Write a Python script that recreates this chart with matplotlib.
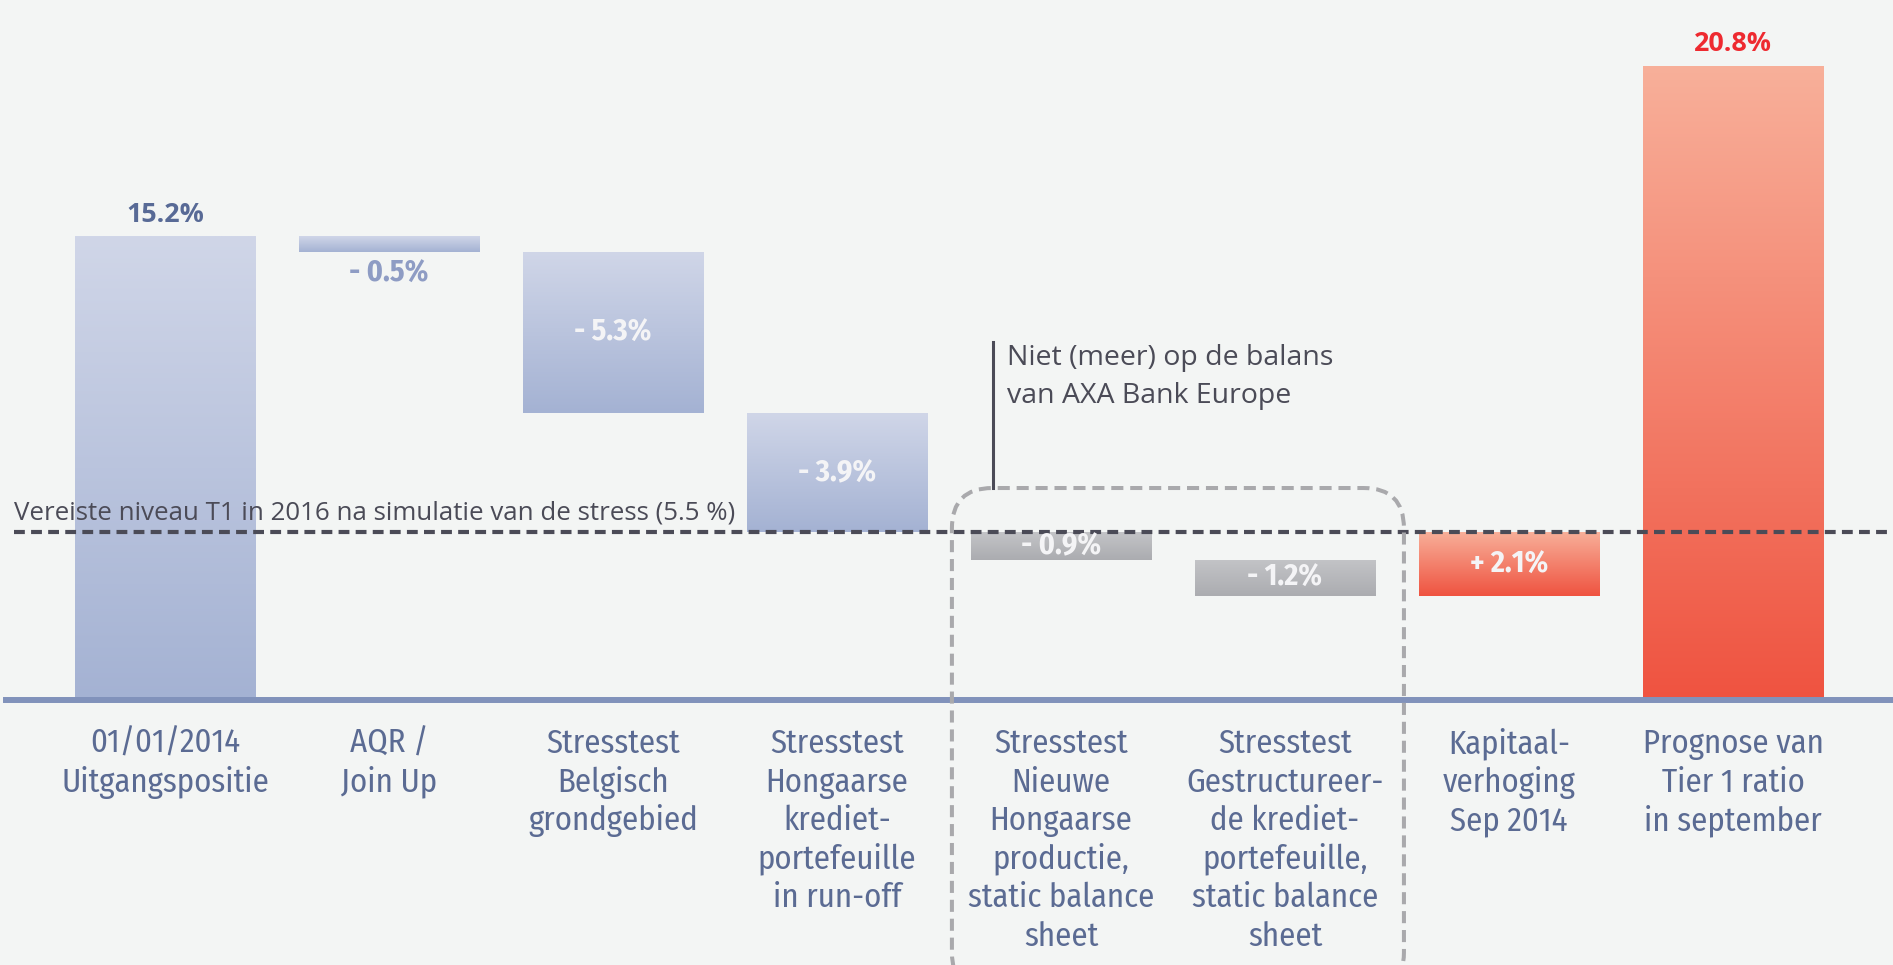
import matplotlib
matplotlib.use("Agg")
import matplotlib.pyplot as plt
import numpy as np
from matplotlib.patches import FancyBboxPatch
from matplotlib import font_manager as fm
from matplotlib.colors import to_rgb

# ---------------- data ----------------
categories = [
    "01/01/2014\nUitgangspositie",
    "AQR /\nJoin Up",
    "Stresstest\nBelgisch\ngrondgebied",
    "Stresstest\nHongaarse\nkrediet-\nportefeuille\nin run-off",
    "Stresstest\nNieuwe\nHongaarse\nproductie,\nstatic balance\nsheet",
    "Stresstest\nGestructureer-\nde krediet-\nportefeuille,\nstatic balance\nsheet",
    "Kapitaal-\nverhoging\nSep 2014",
    "Prognose van\nTier 1 ratio\nin september",
]
values = [15.2, -0.5, -5.3, -3.9, -0.9, -1.2, 2.1, 20.8]
kinds = ["total", "delta", "delta", "delta", "delta", "delta", "delta", "total"]
groups = ["blue", "blue", "blue", "blue", "grey", "grey", "red", "red"]
required_level = 5.5
required_label = "Vereiste niveau T1 in 2016 na simulatie van de stress (5.5 %)"
note_label = "Niet (meer) op de balans\nvan AXA Bank Europe"

# ---------------- styles ----------------
BG = "#f3f5f4"
grad = {
    "blue": ("#d0d6e8", "#a4b2d3"),
    "grey": ("#c3c4c7", "#abacb0"),
    "red": ("#f8b09a", "#ef5340"),
}
small_label_color = {"blue": "#8e9cc4", "grey": "#9c9da1", "red": "#ef5340"}
total_label_color = {"blue": "#586a96", "red": "#ee2a30"}
cat_color = "#5b6b93"
dark = "#4b4b57"

names = {f.name for f in fm.fontManager.ttflist}


def pick(cands):
    for c in cands:
        if c in names:
            return c
    return "DejaVu Sans"


narrow = pick(["Fira Sans Condensed", "PT Sans Narrow", "Asap Condensed",
               "Archivo Narrow"])
regular = pick(["Open Sans", "Lato", "DejaVu Sans"])

W, H = 1893, 965
fig = plt.figure(figsize=(W / 100, H / 100), dpi=100, facecolor=BG)
ax = fig.add_axes([0, 0, 1, 1])
ax.set_facecolor(BG)
ax.axis("off")
renderer = fig.canvas.get_renderer()


def fit_size(text, family, target_px, weight="normal", base=20.0):
    t = fig.text(0, 0, text, fontsize=base, family=family, fontweight=weight)
    w = t.get_window_extent(renderer).width
    t.remove()
    return base * target_px / w


PT = 72.0 / 100.0  # points per pixel

px_x = 224.0   # pixels per category
px_y = 30.5    # pixels per percentage point
x0_px, y0_px = 165.0, 700.0
xlim = (-x0_px / px_x, (W - x0_px) / px_x)
ylim = (-(H - y0_px) / px_y, y0_px / px_y)

# waterfall geometry from values
bottoms, heights = [], []
level = 0.0
for v, k in zip(values, kinds):
    if k == "total":
        bottoms.append(0.0)
        heights.append(v)
        level = v
    else:
        bottoms.append(level)
        heights.append(v)
        level += v

x = np.arange(len(values))
bw = 0.808
bars = ax.bar(x, heights, bottom=bottoms, width=bw,
              color=[grad[g][1] for g in groups], edgecolor="none", zorder=2)

# gradient fill clipped to each bar
for rect, g in zip(bars, groups):
    top_c, bot_c = np.array(to_rgb(grad[g][0])), np.array(to_rgb(grad[g][1]))
    t = np.linspace(0, 1, 256)[:, None]
    img = (top_c[None, :] * (1 - t) + bot_c[None, :] * t)[:, None, :]
    xl = rect.get_x()
    yb = min(rect.get_y(), rect.get_y() + rect.get_height())
    yt = max(rect.get_y(), rect.get_y() + rect.get_height())
    im = ax.imshow(img, extent=(xl, xl + rect.get_width(), yb, yt),
                   origin="upper", aspect="auto", interpolation="bilinear", zorder=2.5)
    im.set_clip_path(rect)

ax.set_xlim(*xlim)
ax.set_ylim(*ylim)

# baseline
ax.axhline(0, xmin=6 / W, xmax=1, color="#8192bb", lw=4.3, zorder=3)

# required level dashed line
ax.axhline(required_level, xmin=14 / W, xmax=1, color=dark, lw=3,
           linestyle=(0, (2.6, 1.5)), zorder=4)
fs_req = fit_size(required_label, regular, 719)
ax.annotate(required_label, xy=(-0.674, required_level), xytext=(0, 9),
            textcoords="offset points", ha="left", va="baseline",
            fontsize=fs_req, family=regular, color=dark, zorder=5)

# value labels
fs_tot = fit_size("15.2%", regular, 78, weight="bold")
fs_in = fit_size("- 5.3%", narrow, 77, weight="bold")
min_h_for_inside = 0.9  # percentage points of bar height needed to fit a label
for xi, v, k, g, b, h in zip(x, values, kinds, groups, bottoms, heights):
    if k == "total":
        ax.annotate(f"{v:.1f}%", xy=(xi, b + h), xytext=(0, 6),
                    textcoords="offset points", ha="center", va="bottom",
                    fontsize=fs_tot, fontweight="bold", family=regular,
                    color=total_label_color[g], zorder=6)
    else:
        sign = "+" if v > 0 else "-"
        txt = f"{sign} {abs(v):.1f}%"
        if abs(h) >= min_h_for_inside:
            ax.text(xi, b + h / 2, txt, ha="center", va="center",
                    fontsize=fs_in, fontweight="bold", family=narrow,
                    color="#f4f4f6", zorder=6)
        else:
            ax.annotate(txt, xy=(xi, min(b, b + h)), xytext=(0, -5),
                        textcoords="offset points", ha="center", va="top",
                        fontsize=fs_in, fontweight="bold", family=narrow,
                        color=small_label_color[g], zorder=6)

# category labels, one line at a time with fixed pixel leading
fs_cat = fit_size("Uitgangspositie", narrow, 208)
first_base_px, lead_px = 53.0, 38.6
for xi, c in zip(x, categories):
    for j, line in enumerate(c.split("\n")):
        ax.annotate(line, xy=(xi, 0),
                    xytext=(0, -(first_base_px + j * lead_px) * PT),
                    textcoords="offset points", ha="center", va="baseline",
                    fontsize=fs_cat, family=narrow, color=cat_color, zorder=6)

# rounded dashed box around the off-balance items
box_l, box_r = 3.513, 5.531
box_t, box_b = 6.95, -9.6
box = FancyBboxPatch((box_l, box_b), box_r - box_l, box_t - box_b,
                     boxstyle="round,pad=0,rounding_size=0.18",
                     mutation_aspect=px_x / px_y, fill=False,
                     edgecolor="#a9a9ac", lw=2.9, linestyle=(0, (3.0, 1.7)),
                     zorder=5, clip_on=False)
ax.add_patch(box)

# note with vertical connector
ax.plot([3.696, 3.696], [box_t, 11.74], color=dark, lw=2.2, zorder=5)
fs_note = fit_size(note_label.split("\n")[0], regular, 326)
for j, line in enumerate(note_label.split("\n")):
    ax.annotate(line, xy=(3.759, 10.98), xytext=(0, -j * 38 * PT),
                textcoords="offset points", ha="left", va="baseline",
                fontsize=fs_note, family=regular, color=dark, zorder=6)

fig.savefig("out.png", dpi=100, facecolor=BG)
